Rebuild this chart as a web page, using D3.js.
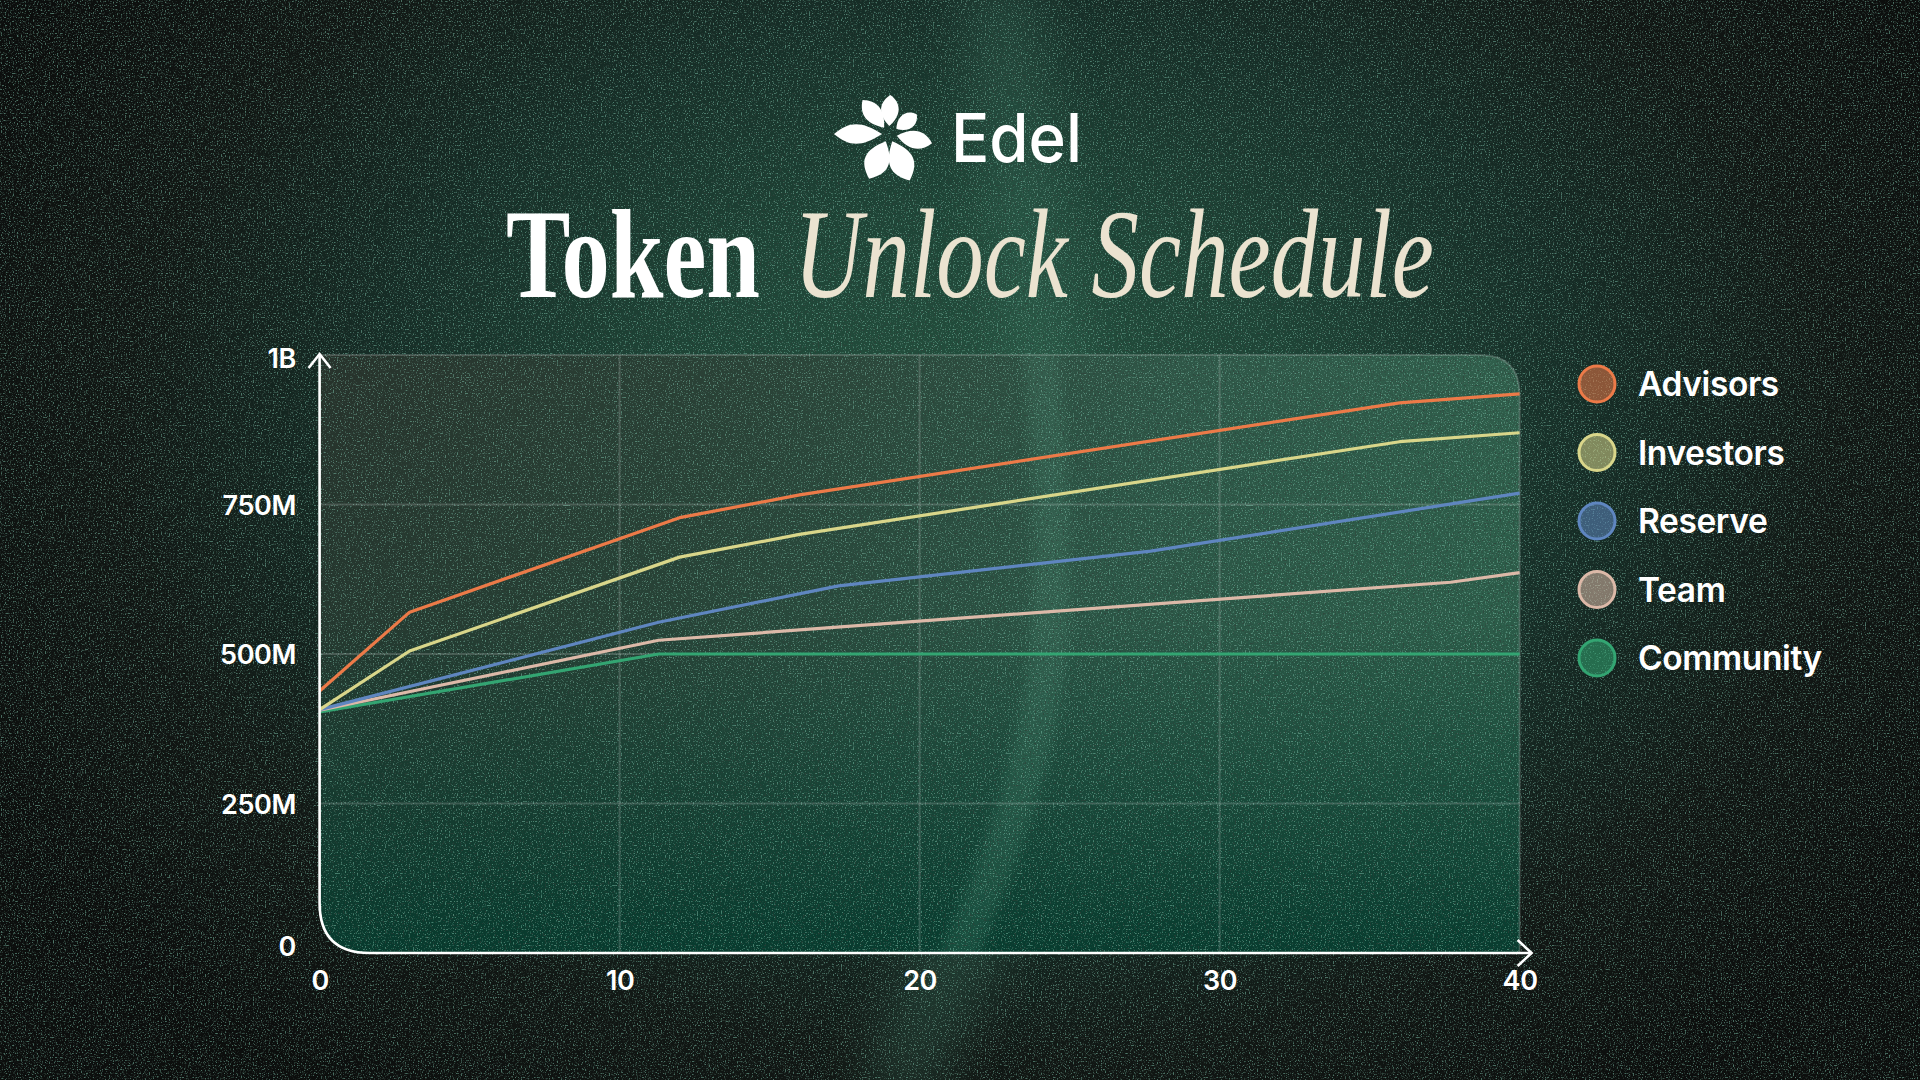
<!DOCTYPE html>
<html>
<head>
<meta charset="utf-8">
<script src="https://cdn.jsdelivr.net/npm/d3@7/dist/d3.min.js"></script>
<style>
  html, body { margin: 0; padding: 0; background: #0e1210; }
  svg { display: block; }
</style>
</head>
<body>
<svg id="chart" width="1920" height="1080"></svg>
<script>
// ---------- DATA ----------
const seriesNames = ["Advisors", "Investors", "Reserve", "Team", "Community"];
const seriesColors = ["#ec7a48", "#d9d68a", "#5f86c0", "#dcb9a8", "#33a572"];

const advisorsMonths  = [0, 3, 12, 16, 36, 40];
const advisorsValues  = [438, 570, 728, 766, 920, 935];   // millions
const investorsMonths = [0, 3, 12, 16, 36, 40];
const investorsValues = [407, 505, 662, 700, 855, 870];
const reserveMonths   = [0, 11.3, 17.3, 27.7, 40];
const reserveValues   = [407, 553, 614, 672, 769];
const teamMonths      = [0, 11.3, 37.7, 40];
const teamValues      = [406, 523, 620, 636];
const communityMonths = [0, 11.3, 40];
const communityValues = [403, 500, 500];

const xTicks = [0, 10, 20, 30, 40];
const xTickLabels = ["0", "10", "20", "30", "40"];
const yTicks = [0, 250, 500, 750, 1000];
const yTickLabels = ["0", "250M", "500M", "750M", "1B"];

const brandName = "Edel";
const titlePlain = "Token";
const titleItalic = "Unlock Schedule";

// ---------- SETUP ----------
const svg = d3.select("#chart");
const W = 1920, H = 1080;
const pL = 319.6, pR = 1519.6, pT = 355, pB = 953;
const x = d3.scaleLinear().domain([0, 40]).range([pL, pR]);
const y = d3.scaleLinear().domain([0, 1000]).range([pB, pT]);

const defs = svg.append("defs");

// background radial glow
const bg = defs.append("radialGradient").attr("id", "bgGlow")
  .attr("gradientUnits", "userSpaceOnUse").attr("cx", 980).attr("cy", 440).attr("r", 1100)
  .attr("gradientTransform", "translate(980,440) scale(1,0.72) translate(-980,-440)");
[[0, "#25523f"], [0.3, "#1e4436"], [0.55, "#162e27"], [0.78, "#111714"], [1, "#0c0e0d"]]
  .forEach(([o, c]) => bg.append("stop").attr("offset", o).attr("stop-color", c));

// plot fill gradients
const pg = defs.append("linearGradient").attr("id", "plotH")
  .attr("x1", 0).attr("y1", 0).attr("x2", 1).attr("y2", 0.25);
[[0, "#27322b"], [0.35, "#2a4337"], [0.7, "#2f5848"], [1, "#30604c"]]
  .forEach(([o, c]) => pg.append("stop").attr("offset", o).attr("stop-color", c));
const pv = defs.append("linearGradient").attr("id", "plotV")
  .attr("x1", 0).attr("y1", 0).attr("x2", 0).attr("y2", 1);
[[0, "#06382b", 0], [0.45, "#06382b", 0.1], [1, "#053a2d", 0.95]]
  .forEach(([o, c, a]) => pv.append("stop").attr("offset", o).attr("stop-color", c).attr("stop-opacity", a));

// blur for band
defs.append("filter").attr("id", "blur40").attr("x", "-50%").attr("y", "-10%").attr("width", "200%").attr("height", "120%")
  .append("feGaussianBlur").attr("stdDeviation", 28);
defs.append("filter").attr("id", "blur8").attr("x", "-50%").attr("y", "-10%").attr("width", "200%").attr("height", "120%")
  .append("feGaussianBlur").attr("stdDeviation", 6);

// grain noise
const nf = defs.append("filter").attr("id", "grain").attr("x", 0).attr("y", 0).attr("width", W).attr("height", H)
  .attr("filterUnits", "userSpaceOnUse");
nf.append("feTurbulence").attr("type", "fractalNoise").attr("baseFrequency", 0.75).attr("numOctaves", 1).attr("seed", 3).attr("result", "t");
nf.append("feColorMatrix").attr("in", "t").attr("type", "matrix")
  .attr("values", "0 0 0 0 0.22  0 0 0 0 0.55  0 0 0 0 0.42  7 0 0 0 -4.0");
const nf2 = defs.append("filter").attr("id", "grainDark").attr("x", 0).attr("y", 0).attr("width", W).attr("height", H)
  .attr("filterUnits", "userSpaceOnUse");
nf2.append("feTurbulence").attr("type", "fractalNoise").attr("baseFrequency", 0.6).attr("numOctaves", 1).attr("seed", 11).attr("result", "t");
nf2.append("feColorMatrix").attr("in", "t").attr("type", "matrix")
  .attr("values", "0 0 0 0 0.03  0 0 0 0 0.05  0 0 0 0 0.04  0 7 0 0 -4.0");

// ---------- BACKGROUND ----------
svg.append("rect").attr("width", W).attr("height", H).attr("fill", "url(#bgGlow)");
const bandPath = "M 1000 -20 C 1020 200, 1060 420, 1050 620 C 1042 800, 960 950, 890 1100";
svg.append("path").attr("d", bandPath).attr("fill", "none")
  .attr("stroke", "#3f7d66").attr("stroke-width", 70).attr("opacity", 0.3).attr("filter", "url(#blur40)");

// ---------- PLOT PANEL ----------
const rTR = 40, rBL = 50;
const panelPath = [
  `M ${pL} ${pT}`,
  `L ${pR - rTR} ${pT}`,
  `Q ${pR} ${pT} ${pR} ${pT + rTR}`,
  `L ${pR} ${pB}`,
  `L ${pL + rBL} ${pB}`,
  `Q ${pL} ${pB} ${pL} ${pB - rBL}`,
  "Z"
].join(" ");
defs.append("clipPath").attr("id", "panelClip").append("path").attr("d", panelPath);

svg.append("path").attr("d", panelPath).attr("fill", "url(#plotH)");
svg.append("path").attr("d", panelPath).attr("fill", "url(#plotV)");
const clipG = svg.append("g").attr("clip-path", "url(#panelClip)");
clipG.append("path").attr("d", bandPath).attr("fill", "none")
  .attr("stroke", "#4f8f76").attr("stroke-width", 36).attr("opacity", 0.22).attr("filter", "url(#blur8)");

// grain overlays
svg.append("rect").attr("width", W).attr("height", H).attr("filter", "url(#grainDark)").attr("opacity", 0.6);
svg.append("rect").attr("width", W).attr("height", H).attr("filter", "url(#grain)").attr("opacity", 0.5);

// panel border (top / right)
svg.append("path").attr("d", panelPath).attr("fill", "none")
  .attr("stroke", "#ffffff").attr("stroke-opacity", 0.18).attr("stroke-width", 2);

// grid lines
const gridG = svg.append("g");
gridG.selectAll("line.v").data(xTicks.filter(t => t > 0 && t < 40)).join("line")
  .attr("x1", d => x(d)).attr("x2", d => x(d)).attr("y1", pT).attr("y2", pB)
  .attr("stroke", "#ffffff").attr("stroke-opacity", 0.17).attr("stroke-width", 2);
gridG.selectAll("line.h").data(yTicks.filter(t => t > 0 && t < 1000)).join("line")
  .attr("x1", pL).attr("x2", pR).attr("y1", d => y(d)).attr("y2", d => y(d))
  .attr("stroke", "#ffffff").attr("stroke-opacity", 0.17).attr("stroke-width", 2);

// ---------- LINES ----------
const allMonths = [advisorsMonths, investorsMonths, reserveMonths, teamMonths, communityMonths];
const allValues = [advisorsValues, investorsValues, reserveValues, teamValues, communityValues];
const series = seriesNames.map((name, i) => ({
  name, color: seriesColors[i],
  points: allMonths[i].map((m, j) => ({ m, v: allValues[i][j] }))
}));
const line = d3.line().x(d => x(d.m)).y(d => y(d.v));
svg.append("g").selectAll("path").data(series.slice().reverse()).join("path")
  .attr("d", d => line(d.points)).attr("fill", "none")
  .attr("stroke", d => d.color).attr("stroke-width", 3.2)
  .attr("stroke-linejoin", "round").attr("stroke-linecap", "butt");

// ---------- AXES LINES ----------
const axisPath = [
  `M ${pL} ${pT - 1}`,
  `L ${pL} ${pB - rBL}`,
  `Q ${pL} ${pB} ${pL + rBL} ${pB}`,
  `L ${pR + 12} ${pB}`
].join(" ");
svg.append("path").attr("d", axisPath).attr("fill", "none").attr("stroke", "#ffffff").attr("stroke-width", 2.6);
svg.append("path").attr("d", `M ${pL - 11} ${pT + 13} L ${pL} ${pT - 1} L ${pL + 11} ${pT + 13}`)
  .attr("fill", "none").attr("stroke", "#ffffff").attr("stroke-width", 2.6);
svg.append("path").attr("d", `M ${pR - 2} ${pB - 13} L ${pR + 12} ${pB} L ${pR - 2} ${pB + 13}`)
  .attr("fill", "none").attr("stroke", "#ffffff").attr("stroke-width", 2.6);

// ---------- TICK LABELS ----------
const yAxis = d3.axisLeft(y).tickValues(yTicks).tickSize(0).tickPadding(0)
  .tickFormat((d, i) => yTickLabels[i]);
const yG = svg.append("g").attr("transform", "translate(296,0)").call(yAxis);
yG.select(".domain").remove();
yG.selectAll("text").attr("fill", "#ffffff").attr("font-family", "Inter, 'Open Sans', sans-serif")
  .attr("font-size", 27).attr("font-weight", 600).attr("letter-spacing", -0.4)
  .attr("dy", d => d === 0 ? "0.1em" : (d === 1000 ? "0.45em" : "0.36em"));

const xAxis = d3.axisBottom(x).tickValues(xTicks).tickSize(0).tickPadding(0)
  .tickFormat((d, i) => xTickLabels[i]);
const xG = svg.append("g").attr("transform", "translate(0,971)").call(xAxis);
xG.select(".domain").remove();
xG.selectAll("text").attr("fill", "#ffffff").attr("font-family", "Inter, 'Open Sans', sans-serif")
  .attr("font-size", 27).attr("font-weight", 600).attr("letter-spacing", -0.4);

// ---------- LEGEND ----------
const legend = svg.append("g").attr("transform", "translate(1597,384)");
const li = legend.selectAll("g").data(series).join("g")
  .attr("transform", (d, i) => `translate(0,${i * 68.5})`);
li.append("circle").attr("r", 18).attr("fill", d => d.color).attr("fill-opacity", 0.55)
  .attr("stroke", d => d.color).attr("stroke-width", 3);
li.append("text").attr("x", 41).attr("dy", "0.36em").text(d => d.name)
  .attr("fill", "#ffffff").attr("font-family", "Inter, 'Open Sans', sans-serif")
  .attr("font-size", 33.5).attr("font-weight", 600).attr("letter-spacing", -0.4);

// ---------- LOGO ----------
const logo = svg.append("g").attr("transform", "translate(889,134)");
const petals = [
  { a: 180, r0: 7, r1: 55, w: 10 },
  { a: -128, r0: 8, r1: 43, w: 9 },
  { a: -88, r0: 8, r1: 39, w: 9 },
  { a: -35, r0: 9, r1: 34, w: 8 },
  { a: 12, r0: 8, r1: 44, w: 9 },
  { a: 66, r0: 8, r1: 51, w: 12.5 },
  { a: 114, r0: 8, r1: 49, w: 12.5 }
];
logo.selectAll("path").data(petals).join("path")
  .attr("transform", d => `rotate(${d.a})`)
  .attr("d", d => {
    const mid = d.r0 + (d.r1 - d.r0) * 0.55;
    return `M ${d.r0} 0 C ${mid - 6} ${d.w * 1.3}, ${mid + 6} ${d.w * 1.3}, ${d.r1} 0 C ${mid + 6} ${-d.w * 1.3}, ${mid - 6} ${-d.w * 1.3}, ${d.r0} 0 Z`;
  })
  .attr("fill", "#ffffff");

// fit a text to a target width with a horizontal scale (keeps real bbox accurate)
function fitText(sel, x0, y0, targetW) {
  const w = sel.node().getComputedTextLength();
  sel.attr("x", 0).attr("y", 0)
    .attr("transform", `translate(${x0},${y0}) scale(${targetW / w},1)`);
}

const brand = svg.append("text").text(brandName)
  .attr("fill", "#ffffff").attr("font-family", "Inter, 'Open Sans', sans-serif")
  .attr("font-size", 67).attr("font-weight", 500);
fitText(brand, 951, 162, 131);

// ---------- TITLE ----------
const t1 = svg.append("text").text(titlePlain)
  .attr("fill", "#ffffff").attr("font-family", "'Liberation Serif', 'DejaVu Serif', serif")
  .attr("font-weight", 700).attr("font-size", 126);
fitText(t1, 506, 297, 254);
const t2 = svg.append("text").text(titleItalic)
  .attr("fill", "#ebe3d0").attr("font-family", "'Liberation Serif', 'DejaVu Serif', serif")
  .attr("font-style", "italic").attr("font-size", 126);
fitText(t2, 794, 297, 640);
</script>
</body>
</html>
